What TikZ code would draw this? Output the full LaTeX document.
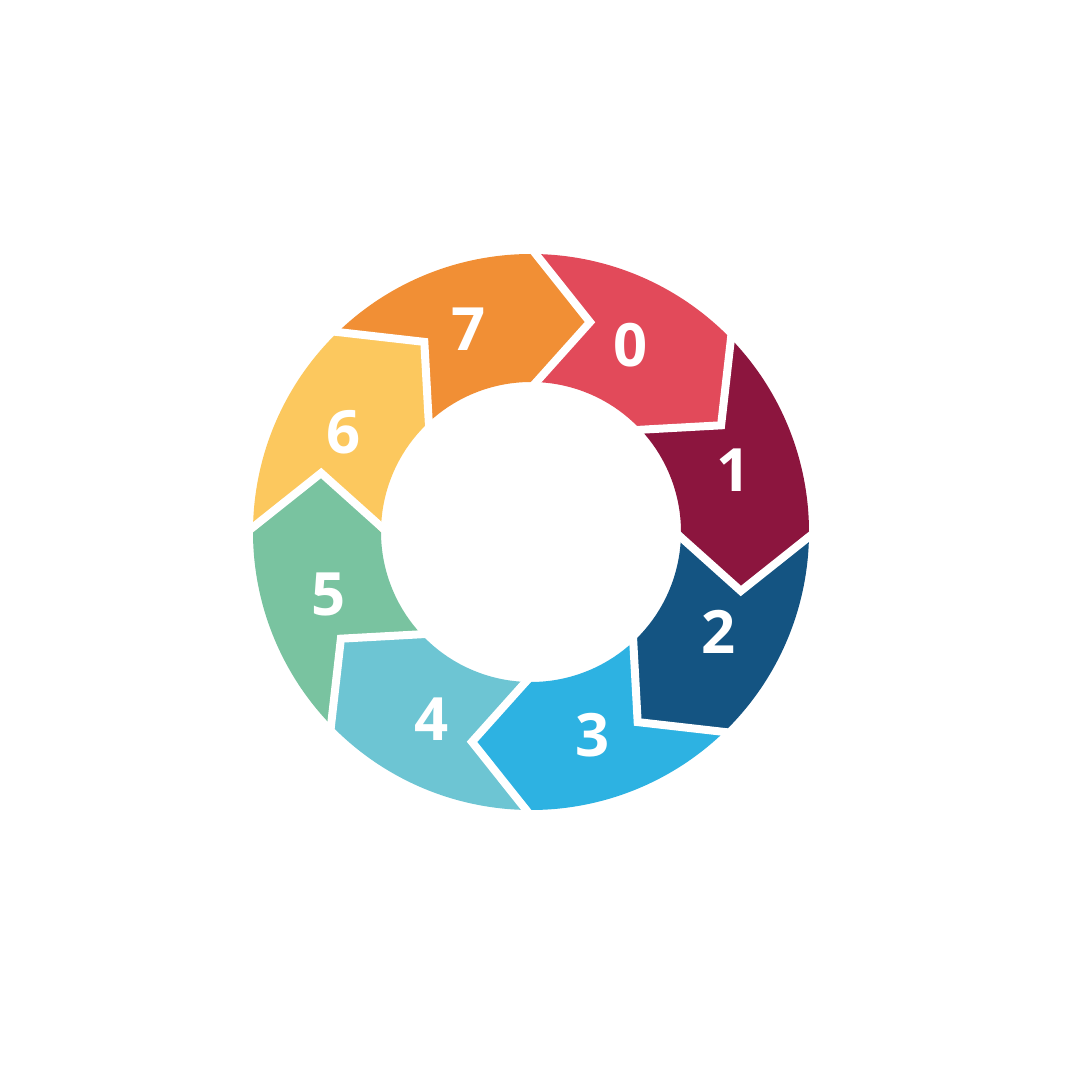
\documentclass[tikz,border=0pt]{standalone}
\usepackage{fontspec}
\setmainfont{Open Sans}
\begin{document}
\begin{tikzpicture}[x=0.02cm,y=0.02cm,
  lbl/.style={text=white,font=\fontsize{34}{34}\selectfont\bfseries},
  gap/.style={white,line width=8*0.02cm,line join=miter}]
\fill[white] (0,0) rectangle (1080,1080);
\def\R{278}\def\r{150}\def\m{218}
\coordinate (c) at (531,548);
\foreach \k/\col in {0/E24A5A,1/8C153E,2/145482,3/2DB2E2,4/6DC5D3,5/79C3A0,6/FCC85E,7/F18F35}{
  \definecolor{seg\k}{HTML}{\col}
  \pgfmathsetmacro{\a}{90-45*\k}
  \pgfmathsetmacro{\b}{45-45*\k}
  \pgfmathsetmacro{\na}{74.3-45*\k}
  \pgfmathsetmacro{\nb}{29.3-45*\k}
  \pgfmathsetmacro{\la}{62-45*\k}
  \fill[seg\k] ([shift={(\a:\R)}]c) arc[start angle=\a,end angle=\b,radius=\R]
    -- ([shift={(\nb:\m)}]c) -- ([shift={(\b:\r)}]c)
    arc[start angle=\b,end angle=\a,radius=\r] -- ([shift={(\na:\m)}]c) -- cycle;
  \node[lbl] (n\k) at ([shift={(\la:212)}]c) {\k};
}
\foreach \k in {0,...,7}{
  \pgfmathsetmacro{\a}{90-45*\k}
  \pgfmathsetmacro{\na}{74.3-45*\k}
  \draw[gap] ([shift={(\a:\R+6)}]c) -- ([shift={(\na:\m)}]c) -- ([shift={(\a:\r-6)}]c);
}
\end{tikzpicture}
\end{document}
